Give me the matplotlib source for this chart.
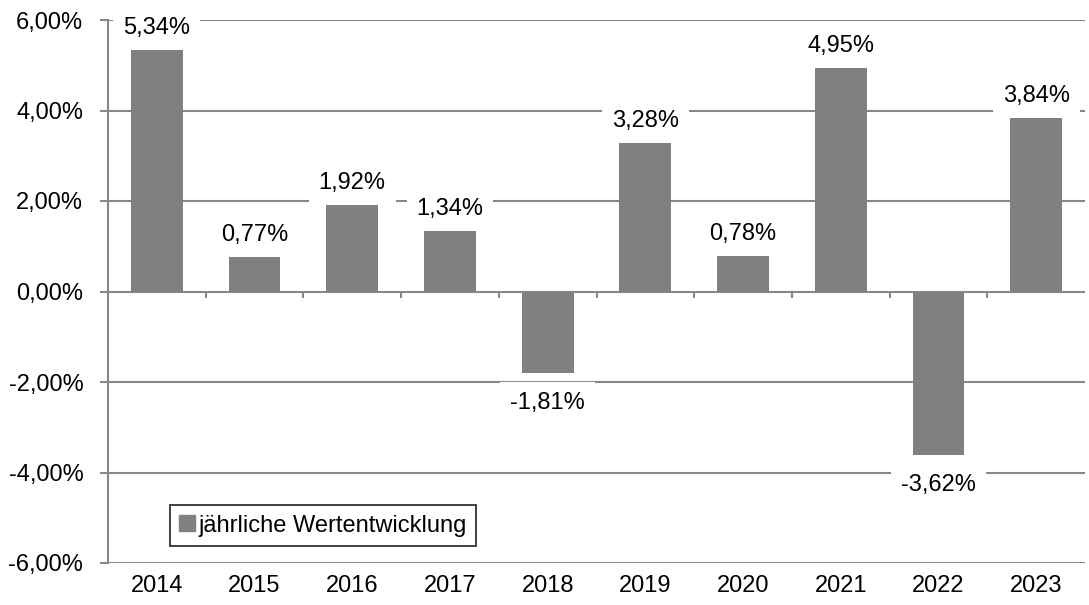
import matplotlib
matplotlib.use("Agg")
import matplotlib.pyplot as plt
from matplotlib.patches import Patch
from matplotlib.lines import Line2D
from matplotlib.transforms import offset_copy

years = ["2014", "2015", "2016", "2017", "2018", "2019", "2020", "2021", "2022", "2023"]
values = [5.34, 0.77, 1.92, 1.34, -1.81, 3.28, 0.78, 4.95, -3.62, 3.84]
yticks = [-6, -4, -2, 0, 2, 4, 6]
series_name = "jährliche Wertentwicklung"

plt.rcParams['font.family'] = ['Liberation Sans', 'DejaVu Sans']
fs = 17
bar_color = "#808080"
grid_color = "#888888"

fig = plt.figure(figsize=(10.89, 6.05), dpi=100)
ax = fig.add_axes([108/1089, 1-563/605, (1085-108)/1089, (563-20)/605])

x = list(range(len(years)))
ax.bar(x, values, width=0.53, color=bar_color, zorder=2)
ax.set_xlim(-0.5, len(years)-0.5)
ax.set_ylim(-6, 6)

def fmt(v):
    return f"{v:.2f}".replace(".", ",") + "%"

ax.set_yticks(yticks)
ax.set_yticklabels([fmt(v) for v in yticks], fontsize=fs)
ax.yaxis.grid(True, color=grid_color, linewidth=1.5, zorder=0)
ax.tick_params(axis='y', length=5.8, color=grid_color, width=1.5, pad=12)

for s in ["top", "right", "bottom"]:
    ax.spines[s].set_visible(False)
ax.spines["left"].set_color(grid_color)
ax.spines["left"].set_linewidth(1.5)

ax.set_xticks([])
trans_lbl = offset_copy(ax.transData, fig=fig, x=0, y=-21, units="points")
for i, y in enumerate(years):
    ax.text(i, -6, y, ha="center", va="baseline", fontsize=fs, transform=trans_lbl)

# small ticks at category boundaries on the zero line
for b in range(1, len(years)):
    ax.add_line(Line2D([b-0.5], [0], color=grid_color, linestyle="none",
                       marker=[(0, 0), (0, -1)], markersize=8.5,
                       markeredgewidth=1.5, markeredgecolor=grid_color, zorder=3))

for i, v in enumerate(values):
    if v >= 0:
        tr = offset_copy(ax.transData, fig=fig, x=0, y=11.5, units="points")
    else:
        tr = offset_copy(ax.transData, fig=fig, x=0, y=-25.5, units="points")
    ax.text(i, v, fmt(v), ha="center", va="baseline", fontsize=fs, transform=tr, zorder=4,
            bbox=dict(boxstyle="square,pad=0.42", fc="white", ec="none"))

leg = ax.legend(handles=[Patch(color=bar_color, label=series_name)],
                loc="lower left", bbox_to_anchor=((170-108)/977, (563-546)/543),
                borderaxespad=0, fontsize=fs, frameon=True, fancybox=False,
                borderpad=0.4, handlelength=0.64, handleheight=0.64, handletextpad=0.15)
leg.get_frame().set_edgecolor("black")
leg.get_frame().set_linewidth(1.3)

fig.savefig("out.png", dpi=100)
